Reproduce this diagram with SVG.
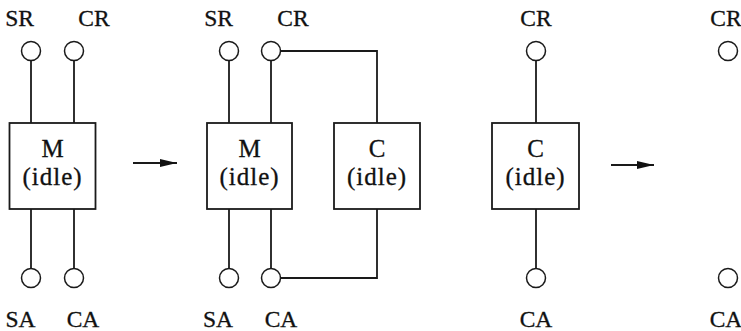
<svg xmlns="http://www.w3.org/2000/svg" width="741" height="331" viewBox="0 0 741 331">
<style>
.box{fill:#fff;stroke:#1a1a1a;stroke-width:1.8}
.port{fill:#fff;stroke:#1a1a1a;stroke-width:1.5}
.wire{fill:none;stroke:#1a1a1a;stroke-width:1.8}
.lbl{font-family:"Liberation Serif","Times New Roman",serif;font-size:23.5px;fill:#111;text-anchor:middle;stroke:#111;stroke-width:0.3}
.in{font-family:"Liberation Serif","Times New Roman",serif;font-size:25px;fill:#111;text-anchor:middle;stroke:#111;stroke-width:0.3}
</style>
<defs>
<marker id="ah" markerWidth="18" markerHeight="10" refX="17" refY="4" orient="auto" markerUnits="userSpaceOnUse">
<path d="M0,0 L17,4 L0,8 Z" fill="#111"/>
</marker>
</defs>
<rect width="741" height="331" fill="#fff"/>
<g id="connectors">
<line class="wire" x1="31" y1="60.5" x2="31" y2="123"/>
<line class="wire" x1="74" y1="60.5" x2="74" y2="123"/>
<line class="wire" x1="31" y1="209" x2="31" y2="268.5"/>
<line class="wire" x1="74" y1="209" x2="74" y2="268.5"/>
<line class="wire" x1="133" y1="163" x2="177" y2="163" marker-end="url(#ah)"/>
<line class="wire" x1="229" y1="60.5" x2="229" y2="123"/>
<line class="wire" x1="271" y1="60.5" x2="271" y2="123"/>
<line class="wire" x1="229" y1="209" x2="229" y2="268.5"/>
<line class="wire" x1="271" y1="209" x2="271" y2="268.5"/>
<polyline class="wire" points="280.5,51 377,51 377,123"/>
<polyline class="wire" points="377,209 377,278 280.5,278"/>
<line class="wire" x1="536" y1="60.5" x2="536" y2="123"/>
<line class="wire" x1="536" y1="209" x2="536" y2="268.5"/>
<line class="wire" x1="611" y1="165" x2="654" y2="165" marker-end="url(#ah)"/>
</g>
<g id="panel1">
<text class="lbl" x="19.5" y="26">SR</text>
<text class="lbl" x="94" y="26">CR</text>
<circle class="port" cx="31" cy="51" r="9.5"/>
<circle class="port" cx="74" cy="51" r="9.5"/>
<circle class="port" cx="31" cy="278" r="9.5"/>
<circle class="port" cx="74" cy="278" r="9.5"/>
<text class="lbl" x="20.5" y="327">SA</text>
<text class="lbl" x="83" y="327">CA</text>
</g>
<g id="M1">
<rect class="box" x="9.5" y="123" width="86" height="86"/>
<text class="in" x="52.5" y="157">M</text>
<text class="in" x="52.5" y="185" letter-spacing="1">(idle)</text>
</g>
<g id="panel2">
<text class="lbl" x="218.5" y="26">SR</text>
<text class="lbl" x="293" y="26">CR</text>
<circle class="port" cx="229" cy="51" r="9.5"/>
<circle class="port" cx="271" cy="51" r="9.5"/>
<circle class="port" cx="229" cy="278" r="9.5"/>
<circle class="port" cx="271" cy="278" r="9.5"/>
<text class="lbl" x="218" y="327">SA</text>
<text class="lbl" x="281" y="327">CA</text>
</g>
<g id="M2">
<rect class="box" x="207" y="123" width="85" height="86"/>
<text class="in" x="249.5" y="157">M</text>
<text class="in" x="249.5" y="185" letter-spacing="1">(idle)</text>
</g>
<g id="C2">
<rect class="box" x="334" y="123" width="86" height="86"/>
<text class="in" x="377" y="157">C</text>
<text class="in" x="377" y="185" letter-spacing="1">(idle)</text>
</g>
<g id="panel3">
<text class="lbl" x="536" y="26">CR</text>
<circle class="port" cx="536" cy="51" r="9.5"/>
<circle class="port" cx="536" cy="278" r="9.5"/>
<text class="lbl" x="536" y="327">CA</text>
</g>
<g id="C3">
<rect class="box" x="492" y="123" width="87" height="86"/>
<text class="in" x="535.5" y="157">C</text>
<text class="in" x="535.5" y="185" letter-spacing="1">(idle)</text>
</g>
<g id="panel4">
<text class="lbl" x="726" y="26">CR</text>
<circle class="port" cx="728" cy="51" r="9.5"/>
<circle class="port" cx="728" cy="278" r="9.5"/>
<text class="lbl" x="726" y="327">CA</text>
</g>
</svg>
